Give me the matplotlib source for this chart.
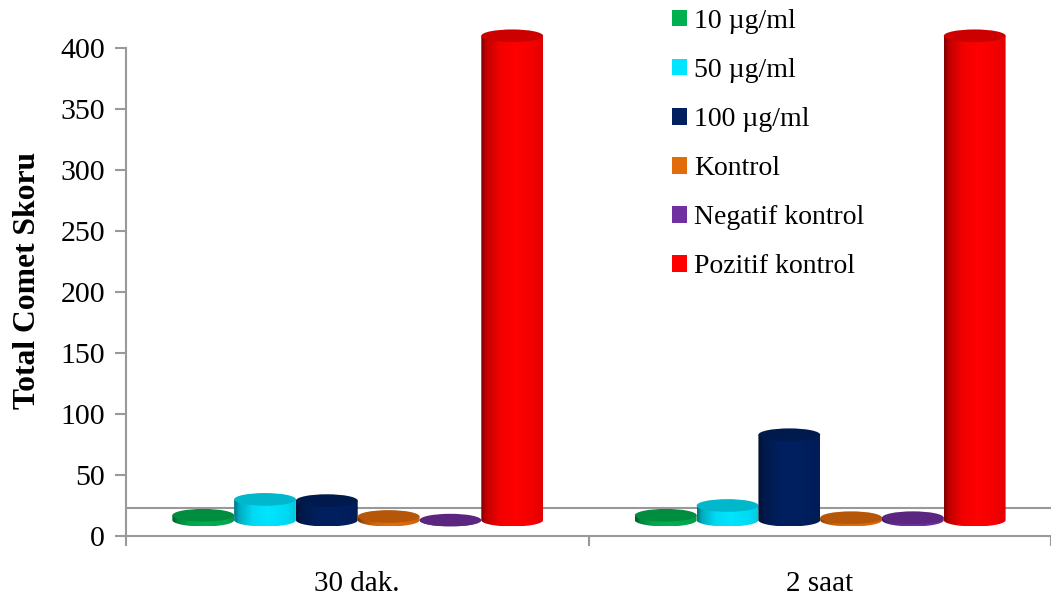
import numpy as np
import matplotlib
matplotlib.use("Agg")
import matplotlib.pyplot as plt
from matplotlib.patches import Patch, Ellipse, Polygon

plt.rcParams['font.family'] = ['Liberation Serif', 'DejaVu Serif']

categories = ["30 dak.", "2 saat"]
series = ["10 µg/ml", "50 µg/ml", "100 µg/ml", "Kontrol", "Negatif kontrol", "Pozitif kontrol"]
colors = ["#00B050", "#00E5FF", "#002060", "#E36C0A", "#7030A0", "#FF0000"]
vals_30dak = [4, 17, 16, 3, 0, 397]
vals_2saat = [4, 12, 70, 2, 2, 397]
yticks = [0, 50, 100, 150, 200, 250, 300, 350, 400]

W, H = 1051, 599
fig = plt.figure(figsize=(W / 100, H / 100), dpi=100)
# axes run up to the top edge so the red bars are not cut off
ax = fig.add_axes([126 / W, (H - 536) / H, (W - 126) / W, 536 / H])
ax.set_xlim(-0.5, 1.5)
ax.set_ylim(0, 536 / 1.22)

gray = "#999999"
floor = 13      # fake 3d: bars stand this far above the axis zero
wall = 23       # back wall line
bw = 0.1336
ry = 5.2


def shade(col, n=200):
    c = np.array(matplotlib.colors.to_rgb(col))
    t = np.linspace(0, 1, n)
    f = np.interp(t, [0, 0.08, 0.3, 0.55, 0.85, 1], [0.5, 0.75, 0.95, 1.0, 0.95, 0.88])
    return (c * f[:, None])[None, :, :].clip(0, 1)


def cyl(x, v, col, z):
    top = floor + v
    th = np.linspace(np.pi, 2 * np.pi, 40)
    xs = x + bw / 2 * np.cos(th)
    ys = floor + ry * np.sin(th)
    pts = np.column_stack([np.r_[xs, x + bw / 2, x - bw / 2], np.r_[ys, top, top]])
    body = Polygon(pts, closed=True, fc="none", ec="none", transform=ax.transData)
    ax.add_patch(body)
    im = ax.imshow(shade(col), extent=[x - bw / 2, x + bw / 2, floor - ry, top], aspect="auto",
                   zorder=z, interpolation="bilinear")
    im.set_clip_path(body)
    c = np.array(matplotlib.colors.to_rgb(col)) * 0.8
    ax.add_patch(Ellipse((x, top), bw, ry * 2, fc=c, ec="none", zorder=z + 0.5))


ax.axhline(wall, color=gray, lw=1.5, zorder=1)

for i, vals in enumerate([vals_30dak, vals_2saat]):
    for j, v in enumerate(vals):
        cyl(i + 0.001 + (j - 2.5) * bw, v, colors[j], 2 + j)
ax.set_xlim(-0.5, 1.5)
ax.set_ylim(0, 536 / 1.22)

for s in ["top", "right"]:
    ax.spines[s].set_visible(False)
ax.spines["left"].set_bounds(0, 400)
ax.spines["left"].set_color(gray)
ax.spines["bottom"].set_color(gray)
ax.spines["left"].set_linewidth(1.5)
ax.spines["bottom"].set_linewidth(1.5)

ax.set_yticks(yticks)
ax.tick_params(axis="y", labelsize=21.5, length=8, width=1.5, color=gray, pad=7)
ax.set_xticks([-0.5, 0.5, 1.5])
ax.set_xticklabels([])
ax.tick_params(axis="x", which="major", length=7, width=1.5, color=gray)
ax.set_xticks([0, 1], minor=True)
ax.set_xticklabels(categories, minor=True, fontsize=21)
ax.tick_params(axis="x", which="minor", length=0, pad=25)

ax.set_ylabel("Total Comet Skoru", fontsize=22.8, fontweight="bold")
ax.yaxis.set_label_coords(-0.091, 0.477)

handles = [Patch(fc=c, ec="none", label=s) for c, s in zip(colors, series)]
fig.legend(handles=handles, loc="upper left", bbox_to_anchor=(647 / W, 1 + 16 / H), frameon=False,
           fontsize=20, handlelength=0.54, handleheight=0.54, handletextpad=0.25, labelspacing=0.865)

fig.savefig("out.png", dpi=100)
